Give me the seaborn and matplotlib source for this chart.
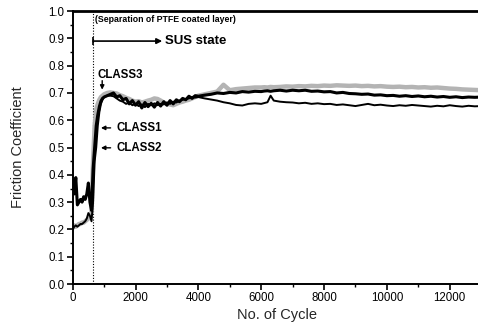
import matplotlib
matplotlib.use("Agg")
import matplotlib.pyplot as plt
import seaborn as sns
import pandas as pd
from matplotlib.ticker import MultipleLocator

# Sampled cycle numbers (dense during the run-in, coarser afterwards)
cycles = [
    0, 50, 100, 150, 200, 250, 300, 350, 400, 450, 500, 550, 600, 650, 700,
    750, 800, 850, 900, 950, 1000,
    1100, 1200, 1300, 1400, 1500, 1600, 1700, 1800, 1900, 2000, 2100, 2200,
    2300, 2400, 2500, 2600, 2700, 2800, 2900, 3000, 3100, 3200, 3300, 3400,
    3500, 3600, 3700, 3800, 3900, 4000,
    4200, 4400, 4600, 4800, 5000, 5200, 5400, 5600, 5800, 6000,
    6100, 6200, 6300, 6400,
    6600, 6800, 7000, 7200, 7400, 7600, 7800, 8000, 8200, 8400, 8600, 8800,
    9000, 9200, 9400, 9600, 9800, 10000, 10200, 10400, 10600, 10800, 11000,
    11200, 11400, 11600, 11800, 12000, 12200, 12400, 12600, 12800, 13000,
]

class1 = [
    0.38, 0.33, 0.39, 0.29, 0.30, 0.31, 0.30, 0.32, 0.31, 0.33, 0.37, 0.30,
    0.27, 0.42, 0.50, 0.58, 0.62, 0.65, 0.67, 0.68, 0.685,
    0.69, 0.695, 0.70, 0.685, 0.69, 0.675, 0.68, 0.66, 0.672, 0.655, 0.668,
    0.645, 0.665, 0.65, 0.662, 0.648, 0.665, 0.652, 0.668, 0.655, 0.672,
    0.66, 0.675, 0.668, 0.68, 0.675, 0.688, 0.68, 0.69, 0.688,
    0.692, 0.695, 0.70, 0.698, 0.702, 0.70, 0.705, 0.703, 0.706, 0.705,
    0.707, 0.708, 0.706, 0.708,
    0.71, 0.707, 0.71, 0.708, 0.71, 0.706, 0.707, 0.704, 0.705, 0.70, 0.702,
    0.698, 0.697, 0.695, 0.696, 0.692, 0.693, 0.69, 0.691, 0.688, 0.69,
    0.687, 0.689, 0.686, 0.688, 0.685, 0.687, 0.684, 0.686, 0.683, 0.685,
    0.684, 0.685,
]

class2 = [
    0.20, 0.21, 0.215, 0.21, 0.215, 0.22, 0.22, 0.225, 0.23, 0.24, 0.26, 0.25,
    0.23, 0.30, 0.45, 0.50, 0.58, 0.63, 0.66, 0.675, 0.685,
    0.69, 0.69, 0.688, 0.68, 0.672, 0.668, 0.66, 0.665, 0.655, 0.66, 0.652,
    0.658, 0.648, 0.66, 0.655, 0.662, 0.655, 0.66, 0.658, 0.665, 0.66,
    0.668, 0.665, 0.672, 0.675, 0.678, 0.68, 0.685, 0.683, 0.685,
    0.68, 0.676, 0.672, 0.666, 0.662, 0.656, 0.654, 0.66, 0.662, 0.66,
    0.663, 0.666, 0.69, 0.672,
    0.668, 0.666, 0.665, 0.662, 0.664, 0.66, 0.662, 0.659, 0.66, 0.656,
    0.658, 0.655, 0.652, 0.656, 0.66, 0.655, 0.657, 0.654, 0.652, 0.655,
    0.653, 0.656, 0.654, 0.652, 0.65, 0.653, 0.651, 0.655, 0.652, 0.65,
    0.653, 0.651, 0.652,
]

class3 = [
    0.205, 0.215, 0.21, 0.215, 0.22, 0.22, 0.225, 0.225, 0.23, 0.235, 0.24,
    0.25, 0.26, 0.45, 0.58, 0.64, 0.66, 0.675, 0.685, 0.69, 0.695,
    0.70, 0.702, 0.70, 0.698, 0.692, 0.688, 0.682, 0.678, 0.672, 0.668, 0.67,
    0.665, 0.668, 0.672, 0.675, 0.68, 0.678, 0.672, 0.665, 0.66, 0.658,
    0.655, 0.66, 0.665, 0.668, 0.672, 0.675, 0.68, 0.685, 0.69,
    0.695, 0.70, 0.705, 0.73, 0.71, 0.714, 0.716, 0.718, 0.72, 0.72,
    0.721, 0.72, 0.722, 0.721,
    0.722, 0.724, 0.723, 0.725, 0.724, 0.726, 0.725, 0.727, 0.726, 0.728,
    0.727, 0.726, 0.727, 0.725, 0.726, 0.724, 0.725, 0.723, 0.722, 0.723,
    0.721, 0.722, 0.72, 0.721, 0.719, 0.72, 0.718, 0.716, 0.715, 0.713,
    0.712, 0.711, 0.71,
]

separation_cycle = 650
x_ticks = [0, 2000, 4000, 6000, 8000, 10000, 12000]
y_ticks = [0.0, 0.1, 0.2, 0.3, 0.4, 0.5, 0.6, 0.7, 0.8, 0.9, 1.0]

sns.set_theme(style="ticks")
plt.rcParams["font.family"] = ["Liberation Sans", "DejaVu Sans"]

df = pd.DataFrame({"cycle": cycles, "CLASS1": class1,
                   "CLASS2": class2, "CLASS3": class3})

fig = plt.figure(figsize=(4.78, 3.25), dpi=100)
ax = fig.add_axes([0.152, 0.126, 0.848, 0.840])

sns.lineplot(data=df, x="cycle", y="CLASS3", ax=ax, color="#b4b4b4",
             linewidth=3.2, zorder=2)
sns.lineplot(data=df, x="cycle", y="CLASS2", ax=ax, color="black",
             linewidth=1.4, zorder=3)
sns.lineplot(data=df, x="cycle", y="CLASS1", ax=ax, color="black",
             linewidth=2.2, zorder=3)

ax.axvline(separation_cycle, color="black", linestyle=(0, (1, 1.5)),
           linewidth=0.8, zorder=1)

ax.set_xlim(0, 12900)
ax.set_ylim(0.0, 1.0)
ax.set_xticks(x_ticks)
ax.set_yticks(y_ticks)
ax.set_yticklabels([f"{v:.1f}" for v in y_ticks])
ax.xaxis.set_minor_locator(MultipleLocator(1000))
ax.yaxis.set_minor_locator(MultipleLocator(0.05))
ax.tick_params(which="major", direction="out", length=4, width=1.2,
               labelsize=8.3, color="black", labelcolor="black", pad=2)
ax.tick_params(which="minor", direction="out", length=2.5, width=1.0,
               color="black")

for side in ["left", "bottom", "top"]:
    ax.spines[side].set_color("black")
    ax.spines[side].set_linewidth(1.4)
ax.spines["top"].set_linewidth(2.0)
ax.spines["right"].set_visible(False)

ax.set_xlabel("No. of Cycle", fontsize=10.5)
ax.set_ylabel("Friction Coefficient", fontsize=10.5)
ax.xaxis.set_label_coords(0.503, -0.088)
ax.yaxis.set_label_coords(-0.118, 0.5)

bold = dict(fontweight="bold", color="black")
ax.text(700, 0.968, "(Separation of PTFE coated layer)", fontsize=6.3,
        va="center", ha="left", **bold)
ax.annotate("", xy=(2850, 0.89), xytext=(separation_cycle, 0.89),
            arrowprops=dict(arrowstyle="-|>", color="black", lw=1.2,
                            mutation_scale=8, shrinkA=0, shrinkB=0))
ax.plot([separation_cycle], [0.89], marker="|", markersize=6,
        color="black", markeredgewidth=1.2)
ax.text(2950, 0.89, "SUS state", fontsize=9.5, va="center", ha="left",
        **bold)

ax.text(800, 0.767, "CLASS3", fontsize=8.3, va="center", ha="left", **bold)
ax.annotate("", xy=(940, 0.712), xytext=(940, 0.745),
            arrowprops=dict(arrowstyle="-|>", color="black", lw=1.0,
                            mutation_scale=6, shrinkA=0, shrinkB=0))
for label, yv in [("CLASS1", 0.572), ("CLASS2", 0.499)]:
    ax.annotate(label, xy=(900, yv), xytext=(1400, yv), fontsize=8.3,
                va="center", ha="left",
                arrowprops=dict(arrowstyle="-|>", color="black", lw=1.0,
                                mutation_scale=6, shrinkA=2, shrinkB=0),
                **bold)

fig.savefig("out.png", dpi=100)
